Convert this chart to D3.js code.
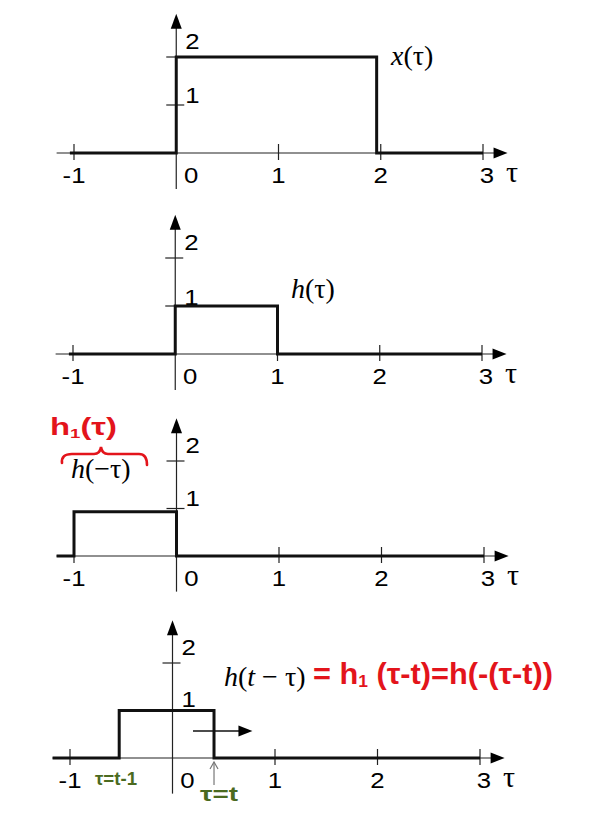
<!DOCTYPE html>
<html><head><meta charset="utf-8">
<script src="https://cdn.jsdelivr.net/npm/d3@7"></script>
<style>html,body{margin:0;padding:0;background:#fff;}svg{display:block;}</style>
</head><body>
<script>
// ---- data ----
const tauTicks = [-1, 0, 1, 2, 3];
const ampTicks = [1, 2];
const xSignal      = [[-1.04,0],[0,0],[0,2],[1.96,2],[1.96,0],[3,0]];
const hSignal      = [[-1.04,0],[0,0],[0,1],[1,1],[1,0],[3,0]];
const hFlipSignal  = [[-1.17,0],[-1,0],[-1,0.93],[0,0.93],[0,0],[3,0]];
const hShiftSignal = [[-1.17,0],[-0.52,0],[-0.52,1],[0.405,1],[0.405,0],[3,0]];
const axisTauRange = [-1.17, 3.24];
const axisAmpRange = [-0.75, 2.9];
const shiftArrow = [0.2, 0.78, 0.57]; // from tau, to tau, at amplitude

// ---- layout ----
const W = 596, H = 836;
const panels = [
  {sig: xSignal,      xr: [74, 483],   y0: 153, y2: 57,  yl1: 103, yl2: 49},
  {sig: hSignal,      xr: [73, 482],   y0: 354, y2: 258, yl1: 304.5, yl2: 249.5},
  {sig: hFlipSignal,  xr: [74, 484],   y0: 556, y2: 461, yl1: 506, yl2: 453},
  {sig: hShiftSignal, xr: [70, 480],   y0: 758, y2: 663, yl1: 707, yl2: 655}
];

const svg = d3.select("body").append("svg").attr("width", W).attr("height", H);
const sans = "'Liberation Sans', Arial, Helvetica, sans-serif";
const serif = "'Liberation Serif', 'Times New Roman', serif";

function tickText(g, xp, yp, s, anchor) {
  // slightly widened sans digits
  g.append("text").attr("transform", `translate(${xp},${yp}) scale(1.12,1)`)
    .attr("text-anchor", anchor).attr("font-family", sans).attr("font-size", 23).text(s);
}

panels.forEach((p, i) => {
  const x = d3.scaleLinear().domain([-1, 3]).range(p.xr);
  const y = d3.scaleLinear().domain([0, 2]).range([p.y0, p.y2]);
  p.x = x; p.y = y;
  const g = svg.append("g");
  const ax = x(0), ay = y(0);
  // x axis line
  const xTip = x(axisTauRange[1]);
  g.append("line").attr("x1", x(axisTauRange[0])).attr("x2", xTip - 10)
    .attr("y1", ay).attr("y2", ay).attr("stroke", "#222").attr("stroke-width", 1.2);
  g.append("path").attr("d", `M${xTip},${ay} L${xTip-14},${ay-5.5} L${xTip-14},${ay+5.5} Z`).attr("fill", "#000");
  // y axis line
  const yTip = y(axisAmpRange[1]);
  g.append("line").attr("x1", ax).attr("x2", ax)
    .attr("y1", y(axisAmpRange[0])).attr("y2", yTip + 10).attr("stroke", "#222").attr("stroke-width", 1.2);
  g.append("path").attr("d", `M${ax},${yTip} L${ax-5.5},${yTip+15} L${ax+5.5},${yTip+15} Z`).attr("fill", "#000");
  // x ticks
  tauTicks.filter(d => d !== 0).forEach(d => {
    g.append("line").attr("x1", x(d)).attr("x2", x(d)).attr("y1", ay - 9).attr("y2", ay + 7)
      .attr("stroke", "#222").attr("stroke-width", 1.2);
  });
  // y ticks
  ampTicks.forEach(d => {
    g.append("line").attr("x1", ax - 10).attr("x2", ax + 8).attr("y1", y(d)).attr("y2", y(d))
      .attr("stroke", "#222").attr("stroke-width", 1.2);
  });
  // tick labels
  tauTicks.forEach(d => {
    let cx = x(d);
    if (d === 0) cx = ax + 15;
    if (d === 3) cx = x(d) + 4;
    tickText(g, cx, ay + 30, d, "middle");
  });
  g.append("text").attr("x", x(3) + 29).attr("y", ay + 29).attr("text-anchor", "middle")
    .attr("font-family", serif).attr("font-size", 30).text("τ");
  ampTicks.forEach(d => {
    tickText(g, ax + 9, d === 2 ? p.yl2 : p.yl1, d, "start");
  });
  // signal
  const line = d3.line().x(d => x(d[0])).y(d => y(d[1]));
  g.append("path").attr("d", line(p.sig)).attr("fill", "none").attr("stroke", "#111")
    .attr("stroke-width", 3).attr("stroke-linejoin", "miter");
});

// ---- math labels ----
function mathLabel(xp, yp, parts, size) {
  const t = svg.append("text").attr("x", xp).attr("y", yp).attr("font-family", serif).attr("font-size", size || 28);
  parts.forEach(([s, it]) => t.append("tspan").attr("font-style", it ? "italic" : "normal").text(s));
  return t;
}
mathLabel(391, 65, [["x", true], ["(τ)", false]]);
mathLabel(291, 298, [["h", true], ["(τ)", false]]);
mathLabel(71, 478, [["h", true], ["(−τ)", false]]);
mathLabel(224, 686, [["h", true], ["(", false], ["t", true], [" − τ)", false]]);

// ---- red handwritten annotations ----
const red = "#e3141b";
const hand = "'Liberation Sans Narrow', 'Liberation Sans', sans-serif";
const r1 = svg.append("text").attr("x", 50).attr("y", 435).attr("font-family", hand)
  .attr("font-weight", "bold").attr("font-size", 23).attr("fill", red)
  .attr("textLength", 67).attr("lengthAdjust", "spacingAndGlyphs");
r1.append("tspan").text("h");
r1.append("tspan").attr("font-size", 13).attr("dy", 3).text("1");
r1.append("tspan").attr("dy", -3).text("(τ)");
svg.append("path")
  .attr("d", "M62,463 Q61,454 72,454 L94,454 Q100,454 101,447 Q102,454 108,454 L139,454 Q147,454 147,465")
  .attr("fill", "none").attr("stroke", red).attr("stroke-width", 2.6).attr("stroke-linecap", "round");

const r2 = svg.append("text").attr("x", 313).attr("y", 684).attr("font-family", hand)
  .attr("font-weight", "bold").attr("font-size", 30).attr("fill", red)
  .attr("textLength", 240).attr("lengthAdjust", "spacingAndGlyphs");
r2.append("tspan").text("= h");
r2.append("tspan").attr("font-size", 17).attr("dy", 3).text("1");
r2.append("tspan").attr("dy", -3).text(" (τ-t)=h(-(τ-t))");

// ---- panel 4 extras ----
const P4 = panels[3];
const ya = P4.y(shiftArrow[2]);
const xa0 = P4.x(shiftArrow[0]), xa1 = P4.x(shiftArrow[1]);
svg.append("line").attr("x1", xa0).attr("x2", xa1 - 10).attr("y1", ya).attr("y2", ya)
  .attr("stroke", "#111").attr("stroke-width", 1.6);
svg.append("path").attr("d", `M${xa1},${ya} L${xa1-14},${ya-5.5} L${xa1-14},${ya+5.5} Z`).attr("fill", "#000");

const green = "#4b6a1f";
svg.append("text").attr("x", 95).attr("y", 785).attr("font-family", hand).attr("font-weight", "bold")
  .attr("font-size", 18).attr("fill", green).attr("textLength", 42).attr("lengthAdjust", "spacingAndGlyphs").text("τ=t-1");
svg.append("text").attr("x", 200).attr("y", 801).attr("font-family", hand).attr("font-weight", "bold")
  .attr("font-size", 21).attr("fill", green).attr("textLength", 38).attr("lengthAdjust", "spacingAndGlyphs").text("τ=t");
const gx = P4.x(hShiftSignal[3][0]);
svg.append("line").attr("x1", gx).attr("x2", gx).attr("y1", 785).attr("y2", 762)
  .attr("stroke", "#777").attr("stroke-width", 1.2);
svg.append("path").attr("d", `M${gx-4},${769} L${gx},${762} L${gx+4},${769}`)
  .attr("fill", "none").attr("stroke", "#777").attr("stroke-width", 1.2);
</script>
</body></html>
